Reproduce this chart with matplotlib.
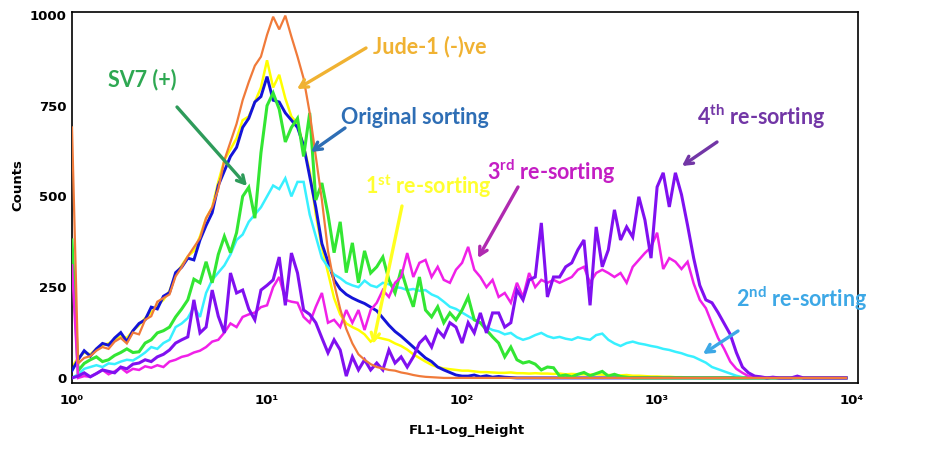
import numpy as np
import matplotlib
matplotlib.use("Agg")
import matplotlib.pyplot as plt

# ---------------- data (counts per log channel, 32 channels per decade) ----------------
n_channels = 128
channels_per_decade = 32

jude_neg = [690, 40, 55, 60, 75, 85, 80, 100, 110, 95, 125, 120, 160, 170, 210, 220,
            230, 280, 305, 335, 360, 385, 440, 470, 520, 600, 650, 700, 765, 815, 860, 885,
            945, 995, 960, 998, 940, 885, 825, 730, 610, 490, 350, 260, 190, 135, 95, 65,
            50, 38, 30, 26, 22, 20, 15, 12, 8, 5, 3, 2, 1, 0, 0, 0] + [0] * 64

original = [20, 50, 75, 60, 80, 95, 90, 110, 125, 100, 130, 150, 160, 195, 190, 225,
            235, 290, 305, 330, 325, 380, 420, 455, 530, 570, 610, 635, 690, 715, 760, 775,
            830, 765, 760, 730, 710, 690, 640, 555, 470, 370, 320, 270, 245, 230, 220, 212,
            205, 195, 185, 165, 145, 128, 115, 100, 85, 70, 55, 45, 30, 22, 15, 8,
            5, 5, 8, 3, 6, 2, 4, 2, 1, 0, 0, 0, 0, 0, 0, 0] + [0] * 48

resort1 = [30, 55, 70, 65, 80, 90, 95, 105, 115, 110, 130, 145, 165, 180, 200, 215,
           240, 285, 310, 335, 350, 390, 440, 470, 540, 600, 630, 660, 710, 720, 760, 800,
           875, 800, 835, 770, 720, 700, 640, 570, 450, 360, 290, 220, 175, 150, 140, 132,
           120, 100, 112, 108, 104, 95, 88, 78, 65, 55, 45, 36, 30, 26, 24, 22,
           20, 20, 18, 16, 16, 15, 14, 14, 15, 13, 13, 12, 13, 12, 12, 11,
           12, 10, 11, 10, 10, 9, 10, 9, 8, 8, 7, 8, 6, 6, 5, 4,
           4, 3, 3, 2, 2, 1, 1, 0, 0, 0, 0, 0, 0, 0, 0, 0] + [0] * 16

sv7_pos = [380, 20, 40, 50, 58, 45, 50, 62, 70, 80, 70, 72, 96, 105, 124, 130,
           140, 168, 190, 215, 272, 262, 320, 262, 340, 390, 345, 400, 500, 525, 440, 620,
           750, 785, 740, 650, 690, 715, 610, 730, 490, 537, 450, 345, 430, 290, 372, 262,
           350, 289, 306, 333, 270, 234, 298, 242, 196, 278, 187, 168, 196, 152, 179, 160,
           187, 223, 160, 152, 132, 113, 96, 58, 85, 50, 41, 45, 38, 22, 30, 28,
           5, 8, 3, 10, 15, 6, 12, 18, 5, 10, 4, 2, 0, 0, 0, 0] + [0] * 32

resort2 = [0, 10, 25, 30, 35, 30, 40, 38, 45, 50, 48, 58, 70, 85, 80, 96,
           105, 140, 150, 165, 196, 168, 234, 270, 290, 310, 340, 380, 395, 430, 450, 470,
           500, 530, 520, 550, 500, 540, 540, 450, 390, 330, 306, 285, 275, 262, 255, 250,
           268, 255, 250, 262, 258, 250, 248, 242, 245, 240, 242, 230, 223, 210, 196, 190,
           180, 170, 160, 152, 140, 132, 128, 120, 124, 112, 105, 110, 118, 124, 115, 110,
           113, 108, 105, 112, 108, 105, 118, 122, 105, 95, 88, 96, 100, 95, 92, 88,
           85, 80, 77, 72, 68, 62, 58, 50, 42, 30, 24, 18, 12, 6, 2, 0] + [0] * 16

resort3 = [310, 0, 5, 3, 12, 22, 10, 18, 28, 15, 25, 22, 32, 28, 35, 30,
           45, 50, 58, 62, 70, 75, 85, 100, 105, 125, 150, 140, 168, 175, 180, 195,
           200, 250, 278, 215, 210, 207, 168, 152, 196, 234, 152, 160, 140, 187, 152, 187,
           132, 187, 207, 242, 223, 262, 278, 344, 278, 317, 325, 278, 306, 270, 262, 298,
           317, 361, 298, 278, 250, 270, 223, 234, 207, 262, 223, 289, 250, 270, 262, 270,
           262, 270, 278, 298, 306, 262, 289, 298, 289, 278, 289, 262, 306, 325, 344, 360,
           400, 300, 330, 320, 300, 320, 260, 215, 192, 150, 110, 80, 45, 25, 14, 5,
           3, 2, 0, 2, 0, 0, 0, 0, 0, 0, 0, 0, 0, 0, 0, 0]

resort4 = [0, 5, 14, 3, 12, 22, 18, 14, 30, 25, 38, 41, 50, 45, 58, 65,
           77, 96, 105, 113, 215, 124, 140, 242, 170, 124, 289, 234, 242, 190, 160, 242,
           255, 270, 333, 200, 344, 289, 187, 175, 152, 110, 69, 105, 77, 5, 58, 22,
           50, 22, 41, 22, 77, 41, 58, 30, 58, 96, 113, 85, 132, 113, 152, 140,
           96, 152, 124, 179, 124, 179, 179, 140, 152, 242, 215, 270, 278, 427, 223, 278,
           278, 306, 317, 353, 380, 200, 416, 306, 353, 463, 380, 416, 388, 499, 435, 330,
           526, 565, 471, 565, 505, 420, 330, 255, 215, 207, 180, 150, 120, 70, 30, 14,
           5, 3, 0, 2, 0, 0, 0, 5, 0, 0, 0, 0, 0, 0, 0, 0]

x_ticks = [1, 10, 100, 1000, 10000]
x_tick_labels = ["10\u2070", "10\u00b9", "10\u00b2", "10\u00b3", "10\u2074"]
y_ticks = [0, 250, 500, 750, 1000]

# ---------------- figure ----------------
plt.rcParams["mathtext.fontset"] = "custom"
plt.rcParams["mathtext.rm"] = "Lato:bold"
plt.rcParams["mathtext.it"] = "Lato:bold"
plt.rcParams["mathtext.bf"] = "Lato:bold"

W, H = 938, 450
fig = plt.figure(figsize=(W / 100, H / 100), dpi=100)
ax = fig.add_axes([72 / W, (H - 383) / H, 786 / W, 371 / H])

fl1 = 10 ** (np.arange(n_channels) / channels_per_decade)

series = [
    (resort1, "#FFFF00", 1.8, 2),
    (original, "#1414D8", 2.1, 3),
    (resort2, "#38F0FF", 1.8, 4),
    (sv7_pos, "#33E633", 2.2, 5),
    (resort3, "#F020E8", 1.8, 6),
    (resort4, "#8010F0", 2.2, 7),
    (jude_neg, "#F07A3A", 1.6, 8),
]
for vals, col, lw, z in series:
    ax.plot(fl1, vals, color=col, lw=lw, zorder=z, solid_joinstyle="miter")

ax.set_xscale("log")
ax.set_xlim(1, 10 ** 4.03)
ax.set_ylim(-14, 1008)
ax.set_xticks(x_ticks)
ax.set_xticklabels(x_tick_labels)
ax.minorticks_off()
ax.set_yticks(y_ticks)
ax.tick_params(length=0, labelsize=9.5, pad=4)
ax.tick_params(axis="x", pad=8)
for lab in ax.get_xticklabels() + ax.get_yticklabels():
    lab.set_fontweight("bold")
for sp in ax.spines.values():
    sp.set_linewidth(1.2)
    sp.set_color("black")

ax.set_xlabel("FL1-Log_Height", fontsize=9.5, fontweight="bold")
ax.xaxis.set_label_coords((467 - 72) / 786, (383 - 424) / 371)
ax.set_ylabel("Counts", fontsize=9.5, fontweight="bold")
ax.yaxis.set_label_coords((24 - 72) / 786, (383 - 185) / 371)

# ---------------- annotations ----------------
def fp(x, y):
    return (x, H - y)


labels = [
    ("Jude-1 (-)ve", 373, 47, "#F0B232", (366, 48), (297, 89), "#F0B232"),
    ("SV7 (+)", 108, 80, "#2EA852", (177, 107), (247, 186), "#2E9B5A"),
    ("Original sorting", 341, 117, "#2E6EB5", (345, 128), (311, 152), "#2E6EB5"),
    ("1$^{st}$ re-sorting", 365, 186, "#FFFF30", (402, 206), (373, 344), "#FFFF20"),
    ("3$^{rd}$ re-sorting", 487, 172, "#C41EC4", (518, 187), (478, 258), "#B02AB0"),
    ("4$^{th}$ re-sorting", 697, 117, "#7236A6", (717, 142), (682, 166), "#7236A6"),
    ("2$^{nd}$ re-sorting", 736, 299, "#3DA8E6", (738, 331), (703, 354), "#3DA8E6"),
]
for txt, tx, ty, tcol, tail, head, acol in labels:
    fig.text(tx / W, 1 - ty / H, txt, color=tcol, fontsize=15.5, fontweight="bold",
             family="Lato", ha="left", va="center")
    ax.annotate("", xy=fp(*head), xycoords="figure pixels",
                xytext=fp(*tail), textcoords="figure pixels",
                arrowprops=dict(arrowstyle="->,head_length=0.55,head_width=0.3",
                                lw=2.4, color=acol, shrinkA=0, shrinkB=0),
                zorder=10)

fig.savefig("out.png", dpi=100)
